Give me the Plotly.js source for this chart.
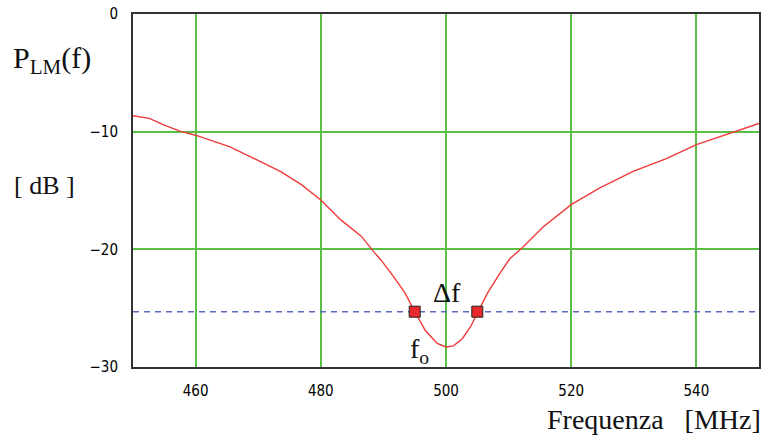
<!DOCTYPE html>
<html>
<head>
<meta charset="utf-8">
<script src="https://cdn.plot.ly/plotly-3.0.1.min.js"></script>
<style>html,body{margin:0;padding:0;background:#fff;}#chart{width:765px;height:438px;}</style>
</head>
<body>
<div id="chart"></div>
<script>
// Frequency response P_LM(f) in dB
const freqMHz = [450, 452.6, 455, 457.5, 460, 465.5, 469.8, 473.6, 476.9, 480, 483.2, 486.5, 488.6, 489.6, 491.6, 493.5, 495, 496.7, 498.6, 500, 501.2, 502.6, 503.9, 505.1, 506.6, 508.6, 510.2, 512.1, 513.9, 515.5, 520, 524.5, 529.8, 535.2, 540, 545.5, 550];
const plmDB   = [-8.65, -8.87, -9.44, -9.95, -10.3, -11.3, -12.4, -13.4, -14.5, -15.8, -17.5, -18.9, -20.3, -20.9, -22.3, -23.75, -25.3, -26.9, -28.0, -28.3, -28.2, -27.6, -26.6, -25.3, -23.75, -22.05, -20.8, -19.9, -18.9, -18.1, -16.2, -14.8, -13.4, -12.3, -11.1, -10.1, -9.3];
// Reference level and band-edge markers
const refLevelDB = -25.3;
const refLineX = [450, 550];
const edgeFreqs = [495, 505];
const xTicks = [460, 480, 500, 520, 540];
const yTicks = [0, -10, -20, -30];
const yTickText = ['0', '\u221210', '\u221220', '\u221230'];

const serif = 'Liberation Serif, Times New Roman, serif';
const tickFamily = 'Liberation Sans Narrow, DejaVu Sans Condensed, Arial Narrow, sans-serif';

const traces = [
  {
    x: refLineX, y: [refLevelDB, refLevelDB], mode: 'lines',
    line: {color: '#5a6cc0', width: 1.6, dash: '6px,5px'}, hoverinfo: 'skip'
  },
  {
    x: freqMHz, y: plmDB, mode: 'lines',
    line: {color: '#f03a3a', width: 1.4}, hoverinfo: 'skip'
  },
  {
    x: edgeFreqs, y: [refLevelDB, refLevelDB], mode: 'markers',
    marker: {symbol: 'square', size: 11, color: '#e8282a', line: {color: '#222', width: 1}},
    hoverinfo: 'skip'
  }
];

const layout = {
  width: 765, height: 438,
  margin: {l: 133, r: 6, t: 14, b: 71},
  paper_bgcolor: '#ffffff', plot_bgcolor: '#ffffff',
  showlegend: false,
  xaxis: {
    range: [450, 550], tickvals: xTicks, ticks: '',
    showgrid: true, gridcolor: '#5cbf45', gridwidth: 2,
    zeroline: false, showline: true, mirror: true, linecolor: '#333', linewidth: 2,
    tickfont: {family: tickFamily, size: 15, color: '#000'},
    ticklabelstandoff: 9
  },
  yaxis: {
    range: [-30, 0], tickvals: yTicks, ticktext: yTickText, ticks: '',
    showgrid: true, gridcolor: '#5cbf45', gridwidth: 2,
    zeroline: false, showline: true, mirror: true, linecolor: '#333', linewidth: 2,
    tickfont: {family: tickFamily, size: 15, color: '#000'},
    ticklabelstandoff: 10
  },
  annotations: [
    {xref: 'paper', yref: 'paper', x: -0.195, y: 0.87, xanchor: 'left', yanchor: 'middle',
     text: 'P<sub>LM</sub>(f)', showarrow: false, font: {family: serif, size: 30, color: '#111'}},
    {xref: 'paper', yref: 'paper', x: -0.193, y: 0.513, xanchor: 'left', yanchor: 'middle',
     text: '[&nbsp;dB&nbsp;]', showarrow: false, font: {family: serif, size: 26, color: '#111'}},
    {xref: 'paper', yref: 'paper', x: 1.007, y: -0.15, xanchor: 'right', yanchor: 'middle',
     text: 'Frequenza&nbsp;&nbsp;&nbsp;[MHz]', showarrow: false, font: {family: serif, size: 28, color: '#111'}},
    {xref: 'x', yref: 'y', x: 500.1, y: -23.7, xanchor: 'center', yanchor: 'middle',
     text: '\u0394f', showarrow: false, font: {family: serif, size: 28, color: '#111'}},
    {xref: 'x', yref: 'y', x: 495.8, y: -28.6, xanchor: 'center', yanchor: 'middle',
     text: 'f<sub>o</sub>', showarrow: false, font: {family: serif, size: 28, color: '#111'}}
  ]
};

Plotly.newPlot('chart', traces, layout, {staticPlot: true, displayModeBar: false});
</script>
</body>
</html>
